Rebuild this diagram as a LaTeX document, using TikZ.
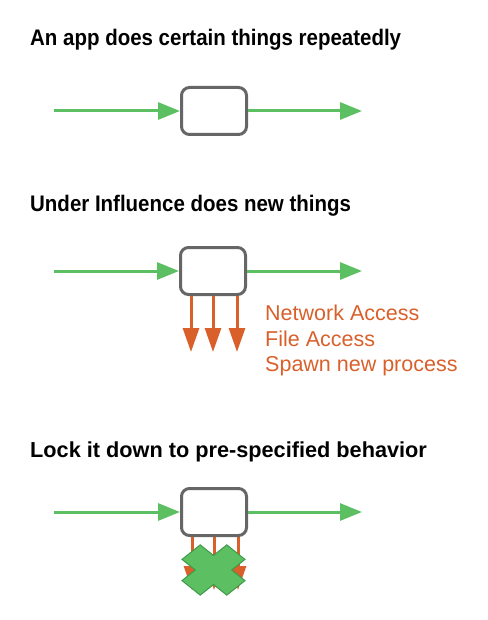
\documentclass[tikz,border=0pt]{standalone}
\usepackage{fontspec}
\setmainfont{Liberation Sans}
\usepackage{tikz}
\usetikzlibrary{arrows.meta,positioning}
\definecolor{flowc}{HTML}{5CBF62}
\definecolor{crossc}{HTML}{3E9A48}
\definecolor{boxc}{HTML}{666666}
\definecolor{actc}{HTML}{D9602B}
\newcommand{\narrowtitle}[1]{\scalebox{0.91}[1]{#1}}
\tikzset{
  flow/.style={-{Triangle[length=22pt,width=17pt]},line width=3pt,flowc},
  act/.style={-{Triangle[length=24pt,width=16pt]},line width=3pt,actc},
  appbox/.style={draw=boxc,line width=3pt,rounded corners=8pt,fill=white,minimum width=65pt,minimum height=47pt,inner sep=0pt},
  head/.style={anchor=west,font=\fontsize{22.5}{24}\selectfont\bfseries,inner sep=0pt},
  lbl/.style={anchor=west,font=\fontsize{21.5}{23}\selectfont,actc,inner sep=0pt}
}
\begin{document}
\begin{tikzpicture}[x=1pt,y=-1pt]
\useasboundingbox (0,0) rectangle (487,620);
% first case
\node[head] (t1) at (30,40) {\narrowtitle{An app does certain things repeatedly}};
\node[appbox] (box1) at (214,111) {};
\coordinate (in1) at (54,111);
\coordinate (out1) at (362,111);
\draw[flow] (in1) -- (box1.west);
\draw[flow] (box1.east) -- (out1);
% second case
\node[head] (t2) at (30,206) {\narrowtitle{Under Influence does new things}};
\node[appbox] (box2) at (213,271) {};
\coordinate (in2) at (54,271);
\coordinate (out2) at (362,271);
\draw[flow] (in2) -- (box2.west);
\draw[flow] (box2.east) -- (out2);
\foreach \dx/\n in {-22/a,0/b,24/c}{
  \coordinate (e2\n) at ([xshift=\dx pt,yshift=-81pt]box2.center);
  \draw[act] ([xshift=\dx pt]box2.south) -- (e2\n);
}
\node[lbl] (l1) at (265,313) {Network Access};
\node[lbl] (l2) at (265,339) {File Access};
\node[lbl] (l3) at (265,366) {Spawn new process};
% third case
\node[head,font=\fontsize{21.7}{23}\selectfont\bfseries] (t3) at (30,452) {Lock it down to pre-specified behavior};
\node[appbox] (box3) at (214,512) {};
\coordinate (in3) at (54,512);
\coordinate (out3) at (362,512);
\draw[flow] (in3) -- (box3.west);
\draw[flow] (box3.east) -- (out3);
\foreach \dx/\n in {-22/a,0/b,24/c}{
  \coordinate (e3\n) at ([xshift=\dx pt,yshift=-78pt]box3.center);
  \draw[act] ([xshift=\dx pt]box3.south) -- (e3\n);
}
\begin{scope}[shift={(213.5,570)},xscale=0.99,yscale=0.79,rotate=45]
\fill[flowc,draw=crossc,line width=1pt] (-13,32) -- (13,32) -- (13,13) -- (32,13) -- (32,-13) -- (13,-13) -- (13,-32) -- (-13,-32) -- (-13,-13) -- (-32,-13) -- (-32,13) -- (-13,13) -- cycle;
\end{scope}
\end{tikzpicture}
\end{document}
